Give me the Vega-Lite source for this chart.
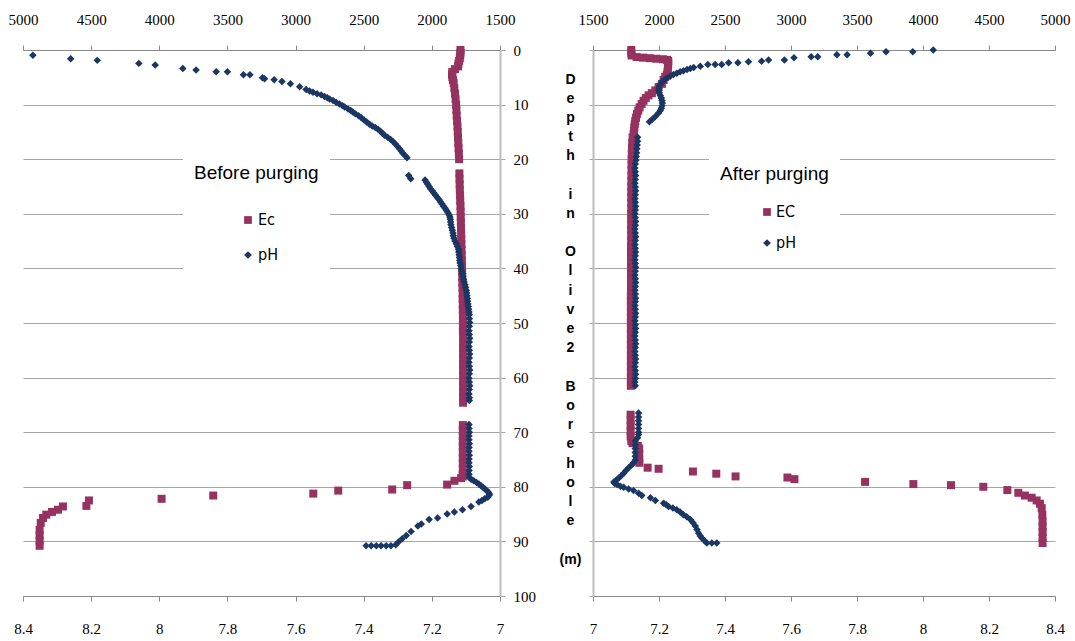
{
"$schema":"https://vega.github.io/schema/vega-lite/v6.json",
"background":"white",
"padding":{"left":8,"top":12,"right":5,"bottom":5},
"bounds":"flush",
"spacing":93,
"config":{"view":{"stroke":null},
"axis":{"labelFont":"Liberation Serif, DejaVu Serif, serif","labelFontSize":15,"labelColor":"black","tickColor":"#8a8a8a","domainColor":"#8a8a8a","gridColor":"#a6a6a6","gridWidth":1,"tickSize":5,"labelFlush":false,"labelOverlap":false,"title":null}},
"datasets":{
"before":[
{"s":"Ec","d":0,"v":1790},{"s":"Ec","d":0.5,"v":1790},{"s":"Ec","d":1,"v":1792},{"s":"Ec","d":1.5,"v":1795},{"s":"Ec","d":2,"v":1800},{"s":"Ec","d":2.5,"v":1805},{"s":"Ec","d":3,"v":1808},{"s":"Ec","d":3.5,"v":1830},{"s":"Ec","d":4,"v":1850},{"s":"Ec","d":4.5,"v":1852},{"s":"Ec","d":5,"v":1850},{"s":"Ec","d":5.5,"v":1845},{"s":"Ec","d":6,"v":1840},{"s":"Ec","d":7,"v":1835},{"s":"Ec","d":8,"v":1830},{"s":"Ec","d":9,"v":1826},{"s":"Ec","d":10,"v":1822},{"s":"Ec","d":11,"v":1820},{"s":"Ec","d":12,"v":1818},{"s":"Ec","d":13,"v":1815},{"s":"Ec","d":14,"v":1812},{"s":"Ec","d":15,"v":1810},{"s":"Ec","d":16,"v":1808},{"s":"Ec","d":17,"v":1806},{"s":"Ec","d":18,"v":1804},{"s":"Ec","d":19,"v":1802},{"s":"Ec","d":20,"v":1800},
{"s":"Ec","d":22.6,"v":1798},{"s":"Ec","d":23.6,"v":1797},{"s":"Ec","d":24.6,"v":1796},{"s":"Ec","d":25.6,"v":1795},{"s":"Ec","d":26.6,"v":1793},{"s":"Ec","d":27.6,"v":1792},{"s":"Ec","d":28.6,"v":1790},{"s":"Ec","d":29.6,"v":1789},{"s":"Ec","d":30.6,"v":1788},{"s":"Ec","d":31.6,"v":1787},{"s":"Ec","d":32.6,"v":1786},{"s":"Ec","d":33.6,"v":1785},{"s":"Ec","d":34.6,"v":1784},{"s":"Ec","d":35.6,"v":1783},{"s":"Ec","d":36.6,"v":1782},{"s":"Ec","d":37.6,"v":1781},{"s":"Ec","d":38.6,"v":1780},{"s":"Ec","d":39.6,"v":1779},{"s":"Ec","d":40.6,"v":1778},{"s":"Ec","d":41.6,"v":1777},{"s":"Ec","d":42.6,"v":1776},{"s":"Ec","d":43.6,"v":1775},{"s":"Ec","d":44.6,"v":1774},{"s":"Ec","d":45.6,"v":1774},{"s":"Ec","d":46.6,"v":1773},{"s":"Ec","d":47.6,"v":1773},{"s":"Ec","d":48.6,"v":1772},{"s":"Ec","d":49.6,"v":1772},{"s":"Ec","d":50.6,"v":1772},{"s":"Ec","d":51.6,"v":1772},{"s":"Ec","d":52.6,"v":1771},{"s":"Ec","d":53.6,"v":1771},{"s":"Ec","d":54.6,"v":1771},{"s":"Ec","d":55.6,"v":1771},{"s":"Ec","d":56.6,"v":1771},{"s":"Ec","d":57.6,"v":1771},{"s":"Ec","d":58.6,"v":1771},{"s":"Ec","d":59.6,"v":1771},{"s":"Ec","d":60.6,"v":1771},{"s":"Ec","d":61.6,"v":1771},{"s":"Ec","d":62.6,"v":1771},{"s":"Ec","d":63.6,"v":1771},{"s":"Ec","d":64.6,"v":1771},
{"s":"Ec","d":68.7,"v":1773},{"s":"Ec","d":69.7,"v":1773},{"s":"Ec","d":70.7,"v":1773},{"s":"Ec","d":71.7,"v":1773},{"s":"Ec","d":72.7,"v":1773},{"s":"Ec","d":73.7,"v":1773},{"s":"Ec","d":74.7,"v":1773},{"s":"Ec","d":75.7,"v":1773},{"s":"Ec","d":76.7,"v":1773},{"s":"Ec","d":77.7,"v":1773},{"s":"Ec","d":78.1,"v":1773},{"s":"Ec","d":78.4,"v":1785},{"s":"Ec","d":78.9,"v":1834},{"s":"Ec","d":79.6,"v":1888},{"s":"Ec","d":79.7,"v":2181},{"s":"Ec","d":80.5,"v":2291},{"s":"Ec","d":80.7,"v":2687},{"s":"Ec","d":81.25,"v":2870},{"s":"Ec","d":81.6,"v":3604},{"s":"Ec","d":82.2,"v":3983},{"s":"Ec","d":82.5,"v":4516},{"s":"Ec","d":83.5,"v":4535},{"s":"Ec","d":83.6,"v":4707},{"s":"Ec","d":84.2,"v":4743},{"s":"Ec","d":84.6,"v":4787},{"s":"Ec","d":85.1,"v":4829},{"s":"Ec","d":85.7,"v":4853},{"s":"Ec","d":86.6,"v":4870},{"s":"Ec","d":87.9,"v":4878},{"s":"Ec","d":88.9,"v":4878},{"s":"Ec","d":89.9,"v":4878},{"s":"Ec","d":90.8,"v":4878},
{"s":"pH","d":0.98,"v":8.371},{"s":"pH","d":1.6,"v":8.26},{"s":"pH","d":1.9,"v":8.182},{"s":"pH","d":2.45,"v":8.06},{"s":"pH","d":2.76,"v":8.012},{"s":"pH","d":3.37,"v":7.931},{"s":"pH","d":3.68,"v":7.892},{"s":"pH","d":3.99,"v":7.833},{"s":"pH","d":3.99,"v":7.8},{"s":"pH","d":4.54,"v":7.753},{"s":"pH","d":4.54,"v":7.734},{"s":"pH","d":5.09,"v":7.697},{"s":"pH","d":5.28,"v":7.691},{"s":"pH","d":5.46,"v":7.663},{"s":"pH","d":5.77,"v":7.64},{"s":"pH","d":6.2,"v":7.615},{"s":"pH","d":6.75,"v":7.588},{"s":"pH","d":7.24,"v":7.569},{"s":"pH","d":7.5,"v":7.559},{"s":"pH","d":7.73,"v":7.549},{"s":"pH","d":8.0,"v":7.537},{"s":"pH","d":8.22,"v":7.525},{"s":"pH","d":8.5,"v":7.515},{"s":"pH","d":8.75,"v":7.507},{"s":"pH","d":8.96,"v":7.5},{"s":"pH","d":9.25,"v":7.49},{"s":"pH","d":9.57,"v":7.481},{"s":"pH","d":9.9,"v":7.471},{"s":"pH","d":10.2,"v":7.462},{"s":"pH","d":10.43,"v":7.456},{"s":"pH","d":10.8,"v":7.446},{"s":"pH","d":11.1,"v":7.438},{"s":"pH","d":11.35,"v":7.432},{"s":"pH","d":11.7,"v":7.424},{"s":"pH","d":12.05,"v":7.415},{"s":"pH","d":12.4,"v":7.407},{"s":"pH","d":12.8,"v":7.399},{"s":"pH","d":13.2,"v":7.391},{"s":"pH","d":13.6,"v":7.383},{"s":"pH","d":13.9,"v":7.375},{"s":"pH","d":14.2,"v":7.366},{"s":"pH","d":14.5,"v":7.358},{"s":"pH","d":14.9,"v":7.351},{"s":"pH","d":15.25,"v":7.345},{"s":"pH","d":15.6,"v":7.339},{"s":"pH","d":16.0,"v":7.33},{"s":"pH","d":16.4,"v":7.321},{"s":"pH","d":16.75,"v":7.314},{"s":"pH","d":17.2,"v":7.307},{"s":"pH","d":17.65,"v":7.301},{"s":"pH","d":18.1,"v":7.295},{"s":"pH","d":18.5,"v":7.29},{"s":"pH","d":18.9,"v":7.285},{"s":"pH","d":19.3,"v":7.279},{"s":"pH","d":19.75,"v":7.273},
{"s":"pH","d":23.0,"v":7.268},{"s":"pH","d":23.6,"v":7.262},
{"s":"pH","d":23.8,"v":7.22},{"s":"pH","d":24.2,"v":7.216},{"s":"pH","d":24.6,"v":7.212},{"s":"pH","d":25.0,"v":7.208},{"s":"pH","d":25.4,"v":7.204},{"s":"pH","d":25.8,"v":7.199},{"s":"pH","d":26.2,"v":7.194},{"s":"pH","d":26.6,"v":7.189},{"s":"pH","d":27.0,"v":7.184},{"s":"pH","d":27.4,"v":7.179},{"s":"pH","d":27.8,"v":7.175},{"s":"pH","d":28.2,"v":7.17},{"s":"pH","d":28.6,"v":7.166},{"s":"pH","d":29.0,"v":7.161},{"s":"pH","d":29.4,"v":7.157},{"s":"pH","d":29.8,"v":7.153},{"s":"pH","d":30.2,"v":7.149},{"s":"pH","d":30.6,"v":7.147},{"s":"pH","d":31.0,"v":7.146},{"s":"pH","d":31.5,"v":7.145},{"s":"pH","d":32.0,"v":7.144},{"s":"pH","d":32.5,"v":7.142},{"s":"pH","d":33.0,"v":7.14},{"s":"pH","d":33.5,"v":7.138},{"s":"pH","d":34.0,"v":7.137},{"s":"pH","d":34.5,"v":7.135},{"s":"pH","d":35.0,"v":7.132},{"s":"pH","d":35.5,"v":7.128},{"s":"pH","d":36.0,"v":7.125},{"s":"pH","d":36.5,"v":7.122},{"s":"pH","d":37.0,"v":7.121},{"s":"pH","d":37.5,"v":7.12},{"s":"pH","d":38.0,"v":7.119},{"s":"pH","d":38.5,"v":7.118},{"s":"pH","d":39.0,"v":7.117},{"s":"pH","d":39.5,"v":7.115},{"s":"pH","d":40.0,"v":7.114},{"s":"pH","d":40.5,"v":7.112},{"s":"pH","d":41.0,"v":7.11},{"s":"pH","d":41.5,"v":7.109},{"s":"pH","d":42.0,"v":7.107},{"s":"pH","d":42.5,"v":7.105},{"s":"pH","d":43.0,"v":7.103},{"s":"pH","d":43.5,"v":7.101},{"s":"pH","d":44.0,"v":7.099},{"s":"pH","d":44.5,"v":7.098},{"s":"pH","d":45.0,"v":7.097},{"s":"pH","d":45.5,"v":7.096},{"s":"pH","d":46.0,"v":7.095},{"s":"pH","d":46.5,"v":7.094},{"s":"pH","d":47.0,"v":7.093},{"s":"pH","d":47.5,"v":7.092},{"s":"pH","d":48.0,"v":7.091},{"s":"pH","d":48.5,"v":7.09},
{"s":"pH","d":49.2,"v":7.09},{"s":"pH","d":49.9,"v":7.089},{"s":"pH","d":50.6,"v":7.09},{"s":"pH","d":51.4,"v":7.091},{"s":"pH","d":52.1,"v":7.09},{"s":"pH","d":52.8,"v":7.089},{"s":"pH","d":53.5,"v":7.09},{"s":"pH","d":54.3,"v":7.091},{"s":"pH","d":55.0,"v":7.09},{"s":"pH","d":55.7,"v":7.089},{"s":"pH","d":56.4,"v":7.09},{"s":"pH","d":57.2,"v":7.091},{"s":"pH","d":57.9,"v":7.09},{"s":"pH","d":58.6,"v":7.089},{"s":"pH","d":59.3,"v":7.09},{"s":"pH","d":60.1,"v":7.091},{"s":"pH","d":60.8,"v":7.09},{"s":"pH","d":61.5,"v":7.089},{"s":"pH","d":62.2,"v":7.09},{"s":"pH","d":63.0,"v":7.091},{"s":"pH","d":63.7,"v":7.09},{"s":"pH","d":64.2,"v":7.09},
{"s":"pH","d":68.6,"v":7.091},{"s":"pH","d":69.3,"v":7.091},{"s":"pH","d":70.0,"v":7.09},{"s":"pH","d":70.7,"v":7.091},{"s":"pH","d":71.4,"v":7.091},{"s":"pH","d":72.1,"v":7.09},{"s":"pH","d":72.8,"v":7.091},{"s":"pH","d":73.5,"v":7.091},{"s":"pH","d":74.2,"v":7.09},{"s":"pH","d":74.9,"v":7.091},{"s":"pH","d":75.6,"v":7.091},{"s":"pH","d":76.3,"v":7.09},{"s":"pH","d":77.0,"v":7.091},{"s":"pH","d":77.7,"v":7.091},{"s":"pH","d":78.3,"v":7.09},{"s":"pH","d":78.6,"v":7.085},{"s":"pH","d":78.9,"v":7.077},{"s":"pH","d":79.2,"v":7.069},{"s":"pH","d":79.5,"v":7.062},{"s":"pH","d":79.8,"v":7.056},{"s":"pH","d":80.1,"v":7.05},{"s":"pH","d":80.4,"v":7.044},{"s":"pH","d":80.7,"v":7.039},{"s":"pH","d":81.0,"v":7.034},{"s":"pH","d":81.3,"v":7.031},{"s":"pH","d":81.6,"v":7.032},{"s":"pH","d":81.9,"v":7.036},{"s":"pH","d":82.2,"v":7.045},{"s":"pH","d":82.5,"v":7.053},{"s":"pH","d":82.8,"v":7.062},{"s":"pH","d":83.6,"v":7.085},{"s":"pH","d":84.2,"v":7.11},{"s":"pH","d":84.6,"v":7.134},{"s":"pH","d":85.0,"v":7.155},{"s":"pH","d":85.7,"v":7.183},{"s":"pH","d":86.0,"v":7.208},{"s":"pH","d":86.8,"v":7.231},{"s":"pH","d":87.2,"v":7.241},{"s":"pH","d":88.2,"v":7.261},{"s":"pH","d":88.9,"v":7.275},{"s":"pH","d":89.5,"v":7.287},{"s":"pH","d":90.1,"v":7.298},{"s":"pH","d":90.6,"v":7.306},{"s":"pH","d":90.8,"v":7.32},{"s":"pH","d":90.8,"v":7.334},{"s":"pH","d":90.8,"v":7.349},{"s":"pH","d":90.8,"v":7.363},{"s":"pH","d":90.8,"v":7.378},{"s":"pH","d":90.8,"v":7.393}
],
"after":[
{"s":"EC","d":0,"v":1790},{"s":"EC","d":0.5,"v":1790},{"s":"EC","d":1.0,"v":1792},{"s":"EC","d":1.3,"v":1830},{"s":"EC","d":1.4,"v":1880},{"s":"EC","d":1.5,"v":1930},{"s":"EC","d":1.6,"v":1980},{"s":"EC","d":1.7,"v":2030},{"s":"EC","d":1.8,"v":2060},{"s":"EC","d":2.0,"v":2070},{"s":"EC","d":2.5,"v":2070},{"s":"EC","d":3.0,"v":2068},{"s":"EC","d":3.5,"v":2067},{"s":"EC","d":4.0,"v":2065},{"s":"EC","d":4.5,"v":2060},{"s":"EC","d":4.9,"v":2047},{"s":"EC","d":5.5,"v":2035},{"s":"EC","d":6.2,"v":2022},{"s":"EC","d":6.8,"v":1997},{"s":"EC","d":7.4,"v":1972},{"s":"EC","d":7.9,"v":1946},{"s":"EC","d":8.3,"v":1921},{"s":"EC","d":8.8,"v":1900},{"s":"EC","d":9.3,"v":1883},{"s":"EC","d":9.9,"v":1868},{"s":"EC","d":10.5,"v":1853},{"s":"EC","d":11.1,"v":1843},{"s":"EC","d":11.7,"v":1833},{"s":"EC","d":12.4,"v":1826},{"s":"EC","d":13.0,"v":1820},{"s":"EC","d":13.6,"v":1816},{"s":"EC","d":14.2,"v":1813},{"s":"EC","d":14.8,"v":1810},{"s":"EC","d":15.4,"v":1808},
{"s":"EC","d":16,"v":1800},{"s":"EC","d":17,"v":1797},{"s":"EC","d":18,"v":1795},{"s":"EC","d":19,"v":1794},{"s":"EC","d":20,"v":1793},{"s":"EC","d":21,"v":1792},{"s":"EC","d":22,"v":1792},{"s":"EC","d":23,"v":1791},{"s":"EC","d":24,"v":1791},{"s":"EC","d":25,"v":1790},{"s":"EC","d":26,"v":1790},{"s":"EC","d":27,"v":1790},{"s":"EC","d":28,"v":1790},{"s":"EC","d":29,"v":1790},{"s":"EC","d":30,"v":1789},{"s":"EC","d":31,"v":1789},{"s":"EC","d":32,"v":1789},{"s":"EC","d":33,"v":1789},{"s":"EC","d":34,"v":1789},{"s":"EC","d":35,"v":1789},{"s":"EC","d":36,"v":1788},{"s":"EC","d":37,"v":1788},{"s":"EC","d":38,"v":1788},{"s":"EC","d":39,"v":1788},{"s":"EC","d":40,"v":1788},{"s":"EC","d":41,"v":1788},{"s":"EC","d":42,"v":1788},{"s":"EC","d":43,"v":1788},{"s":"EC","d":44,"v":1788},{"s":"EC","d":45,"v":1787},{"s":"EC","d":46,"v":1787},{"s":"EC","d":47,"v":1787},{"s":"EC","d":48,"v":1787},{"s":"EC","d":49,"v":1787},{"s":"EC","d":50,"v":1787},{"s":"EC","d":51,"v":1787},{"s":"EC","d":52,"v":1787},{"s":"EC","d":53,"v":1787},{"s":"EC","d":54,"v":1787},{"s":"EC","d":55,"v":1787},{"s":"EC","d":56,"v":1787},{"s":"EC","d":57,"v":1787},{"s":"EC","d":58,"v":1787},{"s":"EC","d":59,"v":1787},{"s":"EC","d":60,"v":1787},{"s":"EC","d":61,"v":1787},{"s":"EC","d":61.5,"v":1787},
{"s":"EC","d":66.8,"v":1785},{"s":"EC","d":67.8,"v":1785},{"s":"EC","d":68.8,"v":1785},{"s":"EC","d":69.8,"v":1785},{"s":"EC","d":70.8,"v":1785},{"s":"EC","d":71.6,"v":1790},{"s":"EC","d":72.0,"v":1800},{"s":"EC","d":72.5,"v":1840},{"s":"EC","d":73.0,"v":1850},{"s":"EC","d":74.0,"v":1850},{"s":"EC","d":75.0,"v":1850},{"s":"EC","d":75.6,"v":1851},{"s":"EC","d":76.5,"v":1914},{"s":"EC","d":76.7,"v":1997},{"s":"EC","d":77.2,"v":2257},{"s":"EC","d":77.6,"v":2434},{"s":"EC","d":78.1,"v":2580},{"s":"EC","d":78.3,"v":2973},{"s":"EC","d":78.6,"v":3026},{"s":"EC","d":79.1,"v":3561},{"s":"EC","d":79.5,"v":3927},{"s":"EC","d":79.7,"v":4212},{"s":"EC","d":80.0,"v":4457},{"s":"EC","d":80.6,"v":4639},{"s":"EC","d":81.1,"v":4722},{"s":"EC","d":81.6,"v":4772},{"s":"EC","d":82.0,"v":4823},{"s":"EC","d":82.5,"v":4861},{"s":"EC","d":83.1,"v":4886},{"s":"EC","d":83.9,"v":4899},{"s":"EC","d":85.1,"v":4904},{"s":"EC","d":86.3,"v":4906},{"s":"EC","d":87.3,"v":4906},{"s":"EC","d":88.3,"v":4906},{"s":"EC","d":89.3,"v":4906},{"s":"EC","d":90.3,"v":4906},
{"s":"pH","d":0,"v":8.031},{"s":"pH","d":0.3,"v":7.969},{"s":"pH","d":0.3,"v":7.888},{"s":"pH","d":0.6,"v":7.841},{"s":"pH","d":0.86,"v":7.77},{"s":"pH","d":0.86,"v":7.739},{"s":"pH","d":1.23,"v":7.681},{"s":"pH","d":1.23,"v":7.661},{"s":"pH","d":1.42,"v":7.609},{"s":"pH","d":1.85,"v":7.58},{"s":"pH","d":1.85,"v":7.532},{"s":"pH","d":2.04,"v":7.511},{"s":"pH","d":2.16,"v":7.471},{"s":"pH","d":2.35,"v":7.439},{"s":"pH","d":2.35,"v":7.411},{"s":"pH","d":2.65,"v":7.39},{"s":"pH","d":2.65,"v":7.37},{"s":"pH","d":2.65,"v":7.348},{"s":"pH","d":2.96,"v":7.325},{"s":"pH","d":3.2,"v":7.305},{"s":"pH","d":3.4,"v":7.295},{"s":"pH","d":3.58,"v":7.285},{"s":"pH","d":3.8,"v":7.274},{"s":"pH","d":4.0,"v":7.264},{"s":"pH","d":4.25,"v":7.254},{"s":"pH","d":4.5,"v":7.244},{"s":"pH","d":4.8,"v":7.234},{"s":"pH","d":5.06,"v":7.226},{"s":"pH","d":5.35,"v":7.219},{"s":"pH","d":5.68,"v":7.212},{"s":"pH","d":6.1,"v":7.206},{"s":"pH","d":6.48,"v":7.202},{"s":"pH","d":6.95,"v":7.2},{"s":"pH","d":7.4,"v":7.199},{"s":"pH","d":7.85,"v":7.201},{"s":"pH","d":8.33,"v":7.204},{"s":"pH","d":8.8,"v":7.207},{"s":"pH","d":9.26,"v":7.209},{"s":"pH","d":9.7,"v":7.21},{"s":"pH","d":10.2,"v":7.209},{"s":"pH","d":10.65,"v":7.207},{"s":"pH","d":11.1,"v":7.204},{"s":"pH","d":11.6,"v":7.198},{"s":"pH","d":12.2,"v":7.189},{"s":"pH","d":12.7,"v":7.18},{"s":"pH","d":13.15,"v":7.171},
{"s":"pH","d":16.0,"v":7.135},{"s":"pH","d":16.7,"v":7.135},{"s":"pH","d":17.4,"v":7.134},{"s":"pH","d":18.1,"v":7.133},{"s":"pH","d":18.8,"v":7.132},{"s":"pH","d":19.5,"v":7.131},{"s":"pH","d":20.2,"v":7.13},{"s":"pH","d":20.9,"v":7.128},{"s":"pH","d":21.6,"v":7.127},{"s":"pH","d":22.3,"v":7.128},{"s":"pH","d":23.0,"v":7.129},{"s":"pH","d":23.7,"v":7.128},{"s":"pH","d":24.4,"v":7.127},{"s":"pH","d":25.1,"v":7.128},{"s":"pH","d":25.8,"v":7.129},{"s":"pH","d":26.5,"v":7.128},{"s":"pH","d":27.2,"v":7.127},{"s":"pH","d":27.9,"v":7.128},{"s":"pH","d":28.6,"v":7.129},{"s":"pH","d":29.3,"v":7.128},{"s":"pH","d":30.0,"v":7.127},{"s":"pH","d":30.7,"v":7.128},{"s":"pH","d":31.4,"v":7.129},{"s":"pH","d":32.1,"v":7.128},{"s":"pH","d":32.8,"v":7.127},{"s":"pH","d":33.5,"v":7.128},{"s":"pH","d":34.2,"v":7.129},{"s":"pH","d":34.9,"v":7.128},{"s":"pH","d":35.6,"v":7.127},{"s":"pH","d":36.3,"v":7.128},{"s":"pH","d":37.0,"v":7.129},{"s":"pH","d":37.7,"v":7.128},{"s":"pH","d":38.4,"v":7.127},{"s":"pH","d":39.1,"v":7.128},{"s":"pH","d":39.8,"v":7.129},{"s":"pH","d":40.5,"v":7.128},{"s":"pH","d":41.2,"v":7.127},{"s":"pH","d":41.9,"v":7.128},{"s":"pH","d":42.6,"v":7.129},{"s":"pH","d":43.3,"v":7.128},{"s":"pH","d":44.0,"v":7.127},{"s":"pH","d":44.7,"v":7.128},{"s":"pH","d":45.4,"v":7.129},{"s":"pH","d":46.1,"v":7.128},{"s":"pH","d":46.8,"v":7.127},{"s":"pH","d":47.5,"v":7.128},{"s":"pH","d":48.2,"v":7.129},{"s":"pH","d":48.9,"v":7.128},{"s":"pH","d":49.6,"v":7.127},{"s":"pH","d":50.3,"v":7.128},{"s":"pH","d":51.0,"v":7.129},{"s":"pH","d":51.7,"v":7.128},{"s":"pH","d":52.4,"v":7.127},{"s":"pH","d":53.1,"v":7.128},{"s":"pH","d":53.8,"v":7.129},{"s":"pH","d":54.5,"v":7.128},{"s":"pH","d":55.2,"v":7.127},{"s":"pH","d":55.9,"v":7.128},{"s":"pH","d":56.6,"v":7.129},{"s":"pH","d":57.3,"v":7.128},{"s":"pH","d":58.0,"v":7.127},{"s":"pH","d":58.7,"v":7.128},{"s":"pH","d":59.4,"v":7.129},{"s":"pH","d":60.1,"v":7.128},{"s":"pH","d":60.8,"v":7.127},{"s":"pH","d":61.5,"v":7.128},
{"s":"pH","d":66.5,"v":7.138},{"s":"pH","d":67.2,"v":7.138},{"s":"pH","d":67.9,"v":7.138},{"s":"pH","d":68.6,"v":7.138},{"s":"pH","d":69.3,"v":7.138},{"s":"pH","d":70.0,"v":7.138},{"s":"pH","d":70.4,"v":7.138},{"s":"pH","d":71.0,"v":7.135},{"s":"pH","d":71.6,"v":7.128},{"s":"pH","d":72.3,"v":7.128},{"s":"pH","d":73.0,"v":7.128},{"s":"pH","d":73.7,"v":7.128},{"s":"pH","d":74.4,"v":7.128},{"s":"pH","d":75.1,"v":7.128},{"s":"pH","d":75.6,"v":7.123},{"s":"pH","d":76.0,"v":7.117},{"s":"pH","d":76.5,"v":7.108},{"s":"pH","d":77.0,"v":7.1},{"s":"pH","d":77.5,"v":7.093},{"s":"pH","d":78.0,"v":7.085},{"s":"pH","d":78.4,"v":7.078},{"s":"pH","d":78.8,"v":7.07},{"s":"pH","d":79.1,"v":7.063},{"s":"pH","d":79.4,"v":7.066},{"s":"pH","d":79.6,"v":7.073},{"s":"pH","d":79.9,"v":7.083},{"s":"pH","d":80.1,"v":7.093},{"s":"pH","d":80.4,"v":7.108},{"s":"pH","d":80.7,"v":7.123},{"s":"pH","d":81.2,"v":7.138},{"s":"pH","d":81.6,"v":7.148},{"s":"pH","d":82.0,"v":7.174},{"s":"pH","d":82.5,"v":7.189},{"s":"pH","d":83.0,"v":7.214},{"s":"pH","d":83.3,"v":7.222},{"s":"pH","d":83.6,"v":7.229},{"s":"pH","d":83.9,"v":7.242},{"s":"pH","d":84.2,"v":7.254},{"s":"pH","d":84.6,"v":7.264},{"s":"pH","d":85.1,"v":7.274},{"s":"pH","d":85.5,"v":7.284},{"s":"pH","d":86.0,"v":7.295},{"s":"pH","d":86.6,"v":7.303},{"s":"pH","d":87.2,"v":7.31},{"s":"pH","d":87.8,"v":7.315},{"s":"pH","d":88.5,"v":7.32},{"s":"pH","d":89.0,"v":7.325},{"s":"pH","d":89.4,"v":7.33},{"s":"pH","d":89.9,"v":7.338},{"s":"pH","d":90.3,"v":7.345},{"s":"pH","d":90.3,"v":7.36},{"s":"pH","d":90.3,"v":7.375}
]},
"hconcat":[
{"width":477,"height":546,
"data":{"name":"before"},
"encoding":{
"y":{"field":"d","type":"quantitative","scale":{"domain":[0,100],"reverse":true,"nice":false,"zero":false},
"axis":{"orient":"right","values":[0,10,20,30,40,50,60,70,80,90,100],"grid":true,"labelPadding":8,"domainColor":"#bdbdbd","domainWidth":2,"tickColor":"#a6a6a6","labelAlign":"left","labelFont":"Liberation Serif, DejaVu Serif, serif","labelFontSize":15}},
"color":{"field":"s","type":"nominal","scale":{"domain":["Ec","pH"],"range":["#96325f","#1a3663"]},
"legend":{"title":"Before purging","orient":"none","legendX":160,"legendY":103,"padding":11,"fillColor":"white","titleFont":"Liberation Sans","titleFontSize":19,"titleFontWeight":"normal","titleColor":"black","titlePadding":29,"labelFont":"Liberation Sans Narrow, DejaVu Sans Condensed, sans-serif","labelFontSize":16,"labelColor":"black","symbolSize":60,"symbolOffset":46,"labelOffset":2,"rowPadding":19,"symbolStrokeWidth":0}},
"shape":{"field":"s","type":"nominal","scale":{"domain":["Ec","pH"],"range":["square","diamond"]},
"legend":{"title":"Before purging","orient":"none","legendX":160,"legendY":103,"padding":11,"fillColor":"white","titleFont":"Liberation Sans","titleFontSize":19,"titleFontWeight":"normal","titleColor":"black","titlePadding":29,"labelFont":"Liberation Sans Narrow, DejaVu Sans Condensed, sans-serif","labelFontSize":16,"labelColor":"black","symbolSize":60,"symbolOffset":46,"labelOffset":2,"rowPadding":19,"symbolStrokeWidth":0}}},
"layer":[
{"transform":[{"filter":"datum.s == 'Ec'"}],
"mark":{"type":"point","filled":true,"size":64,"opacity":1},
"encoding":{"x":{"field":"v","type":"quantitative","scale":{"domain":[1500,5000],"reverse":true,"nice":false,"zero":false},
"axis":{"orient":"top","values":[1500,2000,2500,3000,3500,4000,4500,5000],"format":"d","grid":false,"labelPadding":18,"labelFont":"Liberation Serif, DejaVu Serif, serif","labelFontSize":15}}}},
{"transform":[{"filter":"datum.s == 'pH'"}],
"mark":{"type":"point","filled":true,"size":56,"opacity":1},
"encoding":{"x":{"field":"v","type":"quantitative","scale":{"domain":[7,8.4],"reverse":true,"nice":false,"zero":false},
"axis":{"orient":"bottom","values":[7,7.2,7.4,7.6,7.8,8,8.2,8.4],"format":"~g","grid":false,"labelPadding":20,"labelFont":"Liberation Serif, DejaVu Serif, serif","labelFontSize":15}}}}
],
"resolve":{"scale":{"x":"independent"}}},
{"width":462,"height":546,
"data":{"name":"after"},
"encoding":{
"y":{"field":"d","type":"quantitative","scale":{"domain":[0,100],"reverse":true,"nice":false,"zero":false},
"axis":{"orient":"left","values":[0,10,20,30,40,50,60,70,80,90,100],"grid":true,"labels":false,"tickSize":4,"domainColor":"#bdbdbd","domainWidth":2,"tickColor":"#a6a6a6",
"title":["D","e","p","t","h","\u2800","i","n","\u2800","O","l","i","v","e","2","\u2800","B","o","r","e","h","o","l","e","\u2800","(m)"],
"titleAngle":0,"titleX":-23,"titleY":22,"titleAlign":"center","titleBaseline":"top","titleFont":"Liberation Sans","titleFontWeight":"bold","titleFontSize":14,"titleLineHeight":19.2,"titleColor":"black"}},
"color":{"field":"s","type":"nominal","scale":{"domain":["EC","pH"],"range":["#96325f","#1a3663"]},
"legend":{"title":"After purging","orient":"none","legendX":116,"legendY":104,"padding":11,"fillColor":"white","titleFont":"Liberation Sans","titleFontSize":19,"titleFontWeight":"normal","titleColor":"black","titlePadding":20,"labelFont":"Liberation Sans Narrow, DejaVu Sans Condensed, sans-serif","labelFontSize":16,"labelColor":"black","symbolSize":60,"symbolOffset":39,"labelOffset":1,"rowPadding":15,"symbolStrokeWidth":0}},
"shape":{"field":"s","type":"nominal","scale":{"domain":["EC","pH"],"range":["square","diamond"]},
"legend":{"title":"After purging","orient":"none","legendX":116,"legendY":104,"padding":11,"fillColor":"white","titleFont":"Liberation Sans","titleFontSize":19,"titleFontWeight":"normal","titleColor":"black","titlePadding":20,"labelFont":"Liberation Sans Narrow, DejaVu Sans Condensed, sans-serif","labelFontSize":16,"labelColor":"black","symbolSize":60,"symbolOffset":39,"labelOffset":1,"rowPadding":15,"symbolStrokeWidth":0}}},
"layer":[
{"transform":[{"filter":"datum.s == 'EC'"}],
"mark":{"type":"point","filled":true,"size":64,"opacity":1},
"encoding":{"x":{"field":"v","type":"quantitative","scale":{"domain":[1500,5000],"nice":false,"zero":false},
"axis":{"orient":"top","values":[1500,2000,2500,3000,3500,4000,4500,5000],"format":"d","grid":false,"labelPadding":18,"labelFont":"Liberation Serif, DejaVu Serif, serif","labelFontSize":15}}}},
{"transform":[{"filter":"datum.s == 'pH'"}],
"mark":{"type":"point","filled":true,"size":56,"opacity":1},
"encoding":{"x":{"field":"v","type":"quantitative","scale":{"domain":[7,8.4],"nice":false,"zero":false},
"axis":{"orient":"bottom","values":[7,7.2,7.4,7.6,7.8,8,8.2,8.4],"format":"~g","grid":false,"labelPadding":20,"labelFont":"Liberation Serif, DejaVu Serif, serif","labelFontSize":15}}}}
],
"resolve":{"scale":{"x":"independent"}}}
],
"resolve":{"scale":{"color":"independent","shape":"independent"},"legend":{"color":"independent","shape":"independent"}}
}
